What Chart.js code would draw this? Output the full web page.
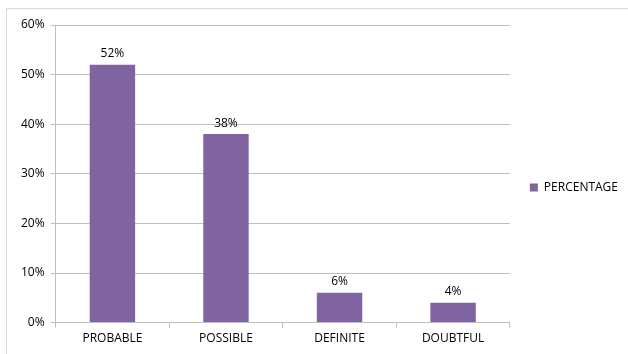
<!DOCTYPE html>
<html>
<head>
<meta charset="utf-8">
<script src="https://cdn.jsdelivr.net/npm/chart.js@4/dist/chart.umd.min.js"></script>
<style>
  body { margin: 0; background: #fff; }
  #frame { position: absolute; left: 6px; top: 8px; width: 640px; height: 360px; border: 1px solid #d9d9d9; }
  #wrap { position: absolute; left: 0; top: 0; width: 628px; height: 354px; }
</style>
</head>
<body>
<div id="frame"></div>
<div id="wrap"><canvas id="chart"></canvas></div>
<script>
  const categories = ["PROBABLE", "POSSIBLE", "DEFINITE", "DOUBTFUL"];
  const percentages = [52, 38, 6, 4];
  const seriesName = "PERCENTAGE";

  const barColor = "#8064a2";
  const gridColor = "#bfbfbf";
  const font = { family: "'Open Sans', 'Liberation Sans', sans-serif", size: 12 };

  // draw the value above each bar
  const valueLabels = {
    id: "valueLabels",
    afterDatasetsDraw(chart) {
      const ctx = chart.ctx;
      const meta = chart.getDatasetMeta(0);
      ctx.save();
      ctx.font = font.size + "px " + font.family;
      ctx.fillStyle = "#000";
      ctx.textAlign = "center";
      ctx.textBaseline = "bottom";
      meta.data.forEach(function (bar, i) {
        ctx.fillText(percentages[i] + "%", bar.x, bar.y - 5);
      });
      ctx.restore();
    }
  };

  const data = {
    labels: categories,
    datasets: [
      {
        label: seriesName,
        data: percentages,
        backgroundColor: barColor,
        borderWidth: 0,
        categoryPercentage: 1,
        barPercentage: 0.4,
      },
    ],
  };

  const config = {
    type: "bar",
    data: data,
    options: {
      responsive: true,
      maintainAspectRatio: false,
      animation: false,
      layout: { padding: { top: 25, left: 15, right: 0, bottom: 4 } },
      plugins: {
        legend: {
          position: "right",
          labels: {
            boxWidth: 8,
            boxHeight: 8,
            color: "#000",
            font: font,
            padding: 20,
          },
        },
        tooltip: { enabled: false },
      },
      scales: {
        x: {
          offset: true,
          grid: {
            offset: true,
            drawOnChartArea: false,
            drawTicks: true,
            tickLength: 5,
            color: gridColor,
          },
          border: { color: gridColor },
          ticks: { color: "#000", font: font, padding: 4 },
        },
        y: {
          min: 0,
          max: 60,
          grid: { color: gridColor, tickLength: 5 },
          border: { color: gridColor },
          ticks: {
            stepSize: 10,
            color: "#000",
            font: font,
            padding: 6,
            callback: function (v) { return v + "%"; },
          },
        },
      },
    },
    plugins: [valueLabels],
  };

  new Chart(document.getElementById("chart"), config);
</script>
</body>
</html>
